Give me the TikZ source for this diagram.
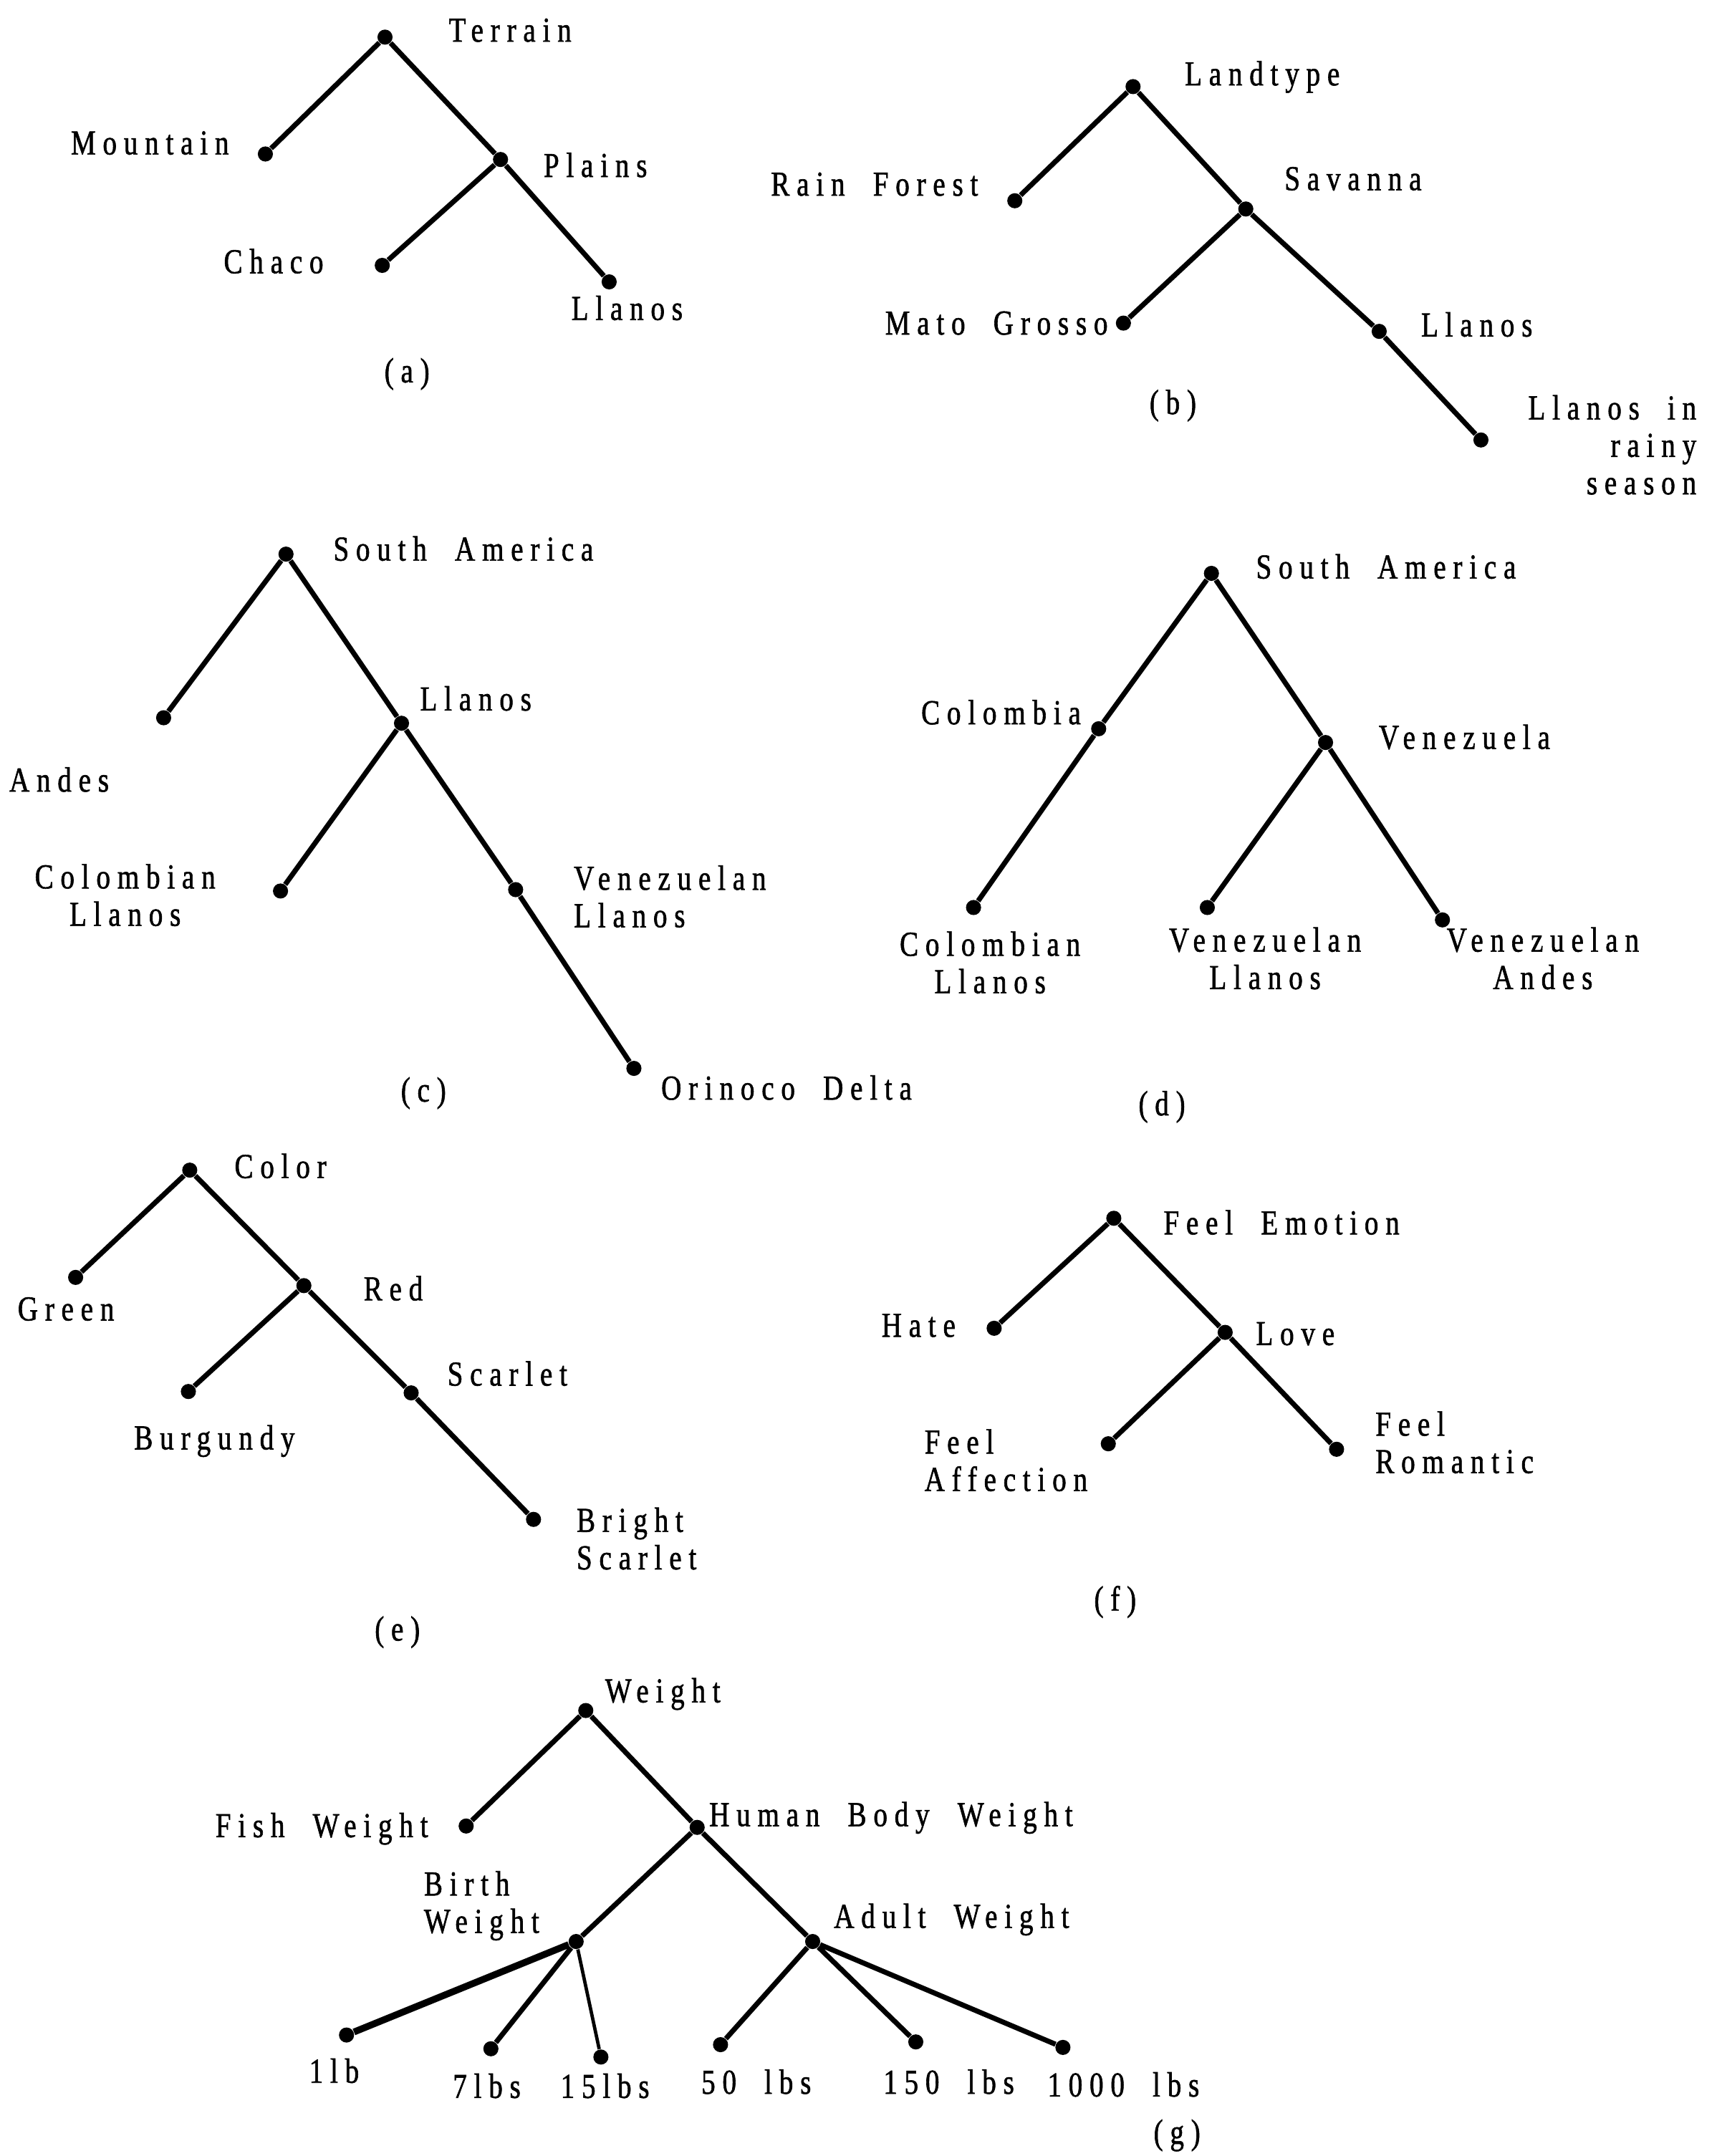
\documentclass[tikz,border=0pt]{standalone}
\usepackage{fontspec}
\setmainfont{Liberation Serif}[FakeStretch=0.8,LetterSpace=20,WordSpace=2,FakeBold=1.2]
\begin{document}
\begin{tikzpicture}[x=0.02cm,y=-0.02cm,
  dot/.style={circle,fill=black,inner sep=0pt,minimum size=0.22cm},
  lbl/.style={inner sep=0pt,font=\fontsize{14.5}{15.5}\selectfont},
  br/.style={line width=2.1pt},
  subcap/.style={inner sep=0pt,font=\fontsize{14.5}{15.5}\selectfont}]
\useasboundingbox (0,0) rectangle (1252,1568);
% (a)
\node[dot] (a0) at (280,27) {};
\node[dot] (a1) at (193,112) {};
\node[dot] (a2) at (364,116) {};
\node[dot] (a3) at (278,193) {};
\node[dot] (a4) at (443,205) {};
\draw[br] (a0)--(a1) (a0)--(a2) (a2)--(a3) (a2)--(a4);
\node[lbl] (la0) at (371,22) {Terrain};
\node[lbl] (la1) at (109,104) {Mountain};
\node[lbl] (la2) at (433,120) {Plains};
\node[lbl] (la3) at (199,190) {Chaco};
\node[lbl] (la4) at (456,224) {Llanos};
\node[subcap] (ca) at (296,272) {(a)};
% (b)
\node[dot] (b0) at (824,63) {};
\node[dot] (b1) at (738,146) {};
\node[dot] (b2) at (906,152) {};
\node[dot] (b3) at (817,235) {};
\node[dot] (b4) at (1003,241) {};
\node[dot] (b5) at (1077,320) {};
\draw[br] (b0)--(b1) (b0)--(b2) (b2)--(b3) (b2)--(b4) (b4)--(b5);
\node[lbl] (lb0) at (918,56) {Landtype};
\node[lbl] (lb1) at (636,134) {Rain Forest};
\node[lbl] (lb2) at (984,130) {Savanna};
\node[lbl,anchor=east] (lb3) at (806,235) {Mato Grosso};
\node[lbl] (lb4) at (1074,236) {Llanos};
\node[lbl,align=right,anchor=north east] (lb5) at (1234,287) {Llanos in\\rainy\\season};
\node[subcap] (cb) at (853,295) {(b)};
% (c)
\node[dot] (c0) at (208,403) {};
\node[dot] (c1) at (119,522) {};
\node[dot] (c2) at (292,526) {};
\node[dot] (c3) at (204,648) {};
\node[dot] (c4) at (375,647) {};
\node[dot] (c5) at (461,777) {};
\draw[br] (c0)--(c1) (c0)--(c2) (c2)--(c3) (c2)--(c4) (c4)--(c5);
\node[lbl] (lc0) at (337,399) {South America};
\node[lbl] (lc1) at (43,567) {Andes};
\node[lbl] (lc2) at (346,508) {Llanos};
\node[lbl,align=center] (lc3) at (91,651) {Colombian\\Llanos};
\node[lbl,align=left,anchor=west] (lc4) at (417,652) {Venezuelan\\Llanos};
\node[lbl] (lc5) at (572,791) {Orinoco Delta};
\node[subcap] (cc) at (308,795) {(c)};
% (d)
\node[dot] (d0) at (881,417) {};
\node[dot] (d1) at (799,530) {};
\node[dot] (d2) at (964,540) {};
\node[dot] (d3) at (708,660) {};
\node[dot] (d4) at (878,660) {};
\node[dot] (d5) at (1049,669) {};
\draw[br] (d0)--(d1) (d0)--(d2) (d1)--(d3) (d2)--(d4) (d2)--(d5);
\node[lbl] (ld0) at (1008,412) {South America};
\node[lbl] (ld1) at (728,518) {Colombia};
\node[lbl] (ld2) at (1065,536) {Venezuela};
\node[lbl,align=center] (ld3) at (720,700) {Colombian\\Llanos};
\node[lbl,align=center] (ld4) at (920,697) {Venezuelan\\Llanos};
\node[lbl,align=center] (ld5) at (1122,697) {Venezuelan\\Andes};
\node[subcap] (cd) at (845,805) {(d)};
% (e)
\node[dot] (e0) at (138,851) {};
\node[dot] (e1) at (55,929) {};
\node[dot] (e2) at (221,935) {};
\node[dot] (e3) at (137,1012) {};
\node[dot] (e4) at (299,1013) {};
\node[dot] (e5) at (388,1105) {};
\draw[br] (e0)--(e1) (e0)--(e2) (e2)--(e3) (e2)--(e4) (e4)--(e5);
\node[lbl] (le0) at (204,848) {Color};
\node[lbl] (le1) at (48,952) {Green};
\node[lbl] (le2) at (286,937) {Red};
\node[lbl] (le3) at (156,1048) {Burgundy};
\node[lbl] (le4) at (369,999) {Scarlet};
\node[lbl,align=left,anchor=west] (le5) at (419,1119) {Bright\\Scarlet};
\node[subcap] (ce) at (289,1187) {(e)};
% (f)
\node[dot] (f0) at (810,886) {};
\node[dot] (f1) at (723,966) {};
\node[dot] (f2) at (891,969) {};
\node[dot] (f3) at (806,1050) {};
\node[dot] (f4) at (972,1054) {};
\draw[br] (f0)--(f1) (f0)--(f2) (f2)--(f3) (f2)--(f4);
\node[lbl] (lf0) at (932,889) {Feel Emotion};
\node[lbl] (lf1) at (668,964) {Hate};
\node[lbl] (lf2) at (942,970) {Love};
\node[lbl,align=left,anchor=west] (lf3) at (672,1062) {Feel\\Affection};
\node[lbl,align=left,anchor=west] (lf4) at (1000,1049) {Feel\\Romantic};
\node[subcap] (cf) at (811,1165) {(f)};
% (g)
\node[dot] (g0) at (426,1244) {};
\node[dot] (g1) at (339,1328) {};
\node[dot] (g2) at (507,1329) {};
\node[dot] (g3) at (419,1412) {};
\node[dot] (g4) at (591,1412) {};
\node[dot] (g5) at (252,1480) {};
\node[dot] (g6) at (357,1490) {};
\node[dot] (g7) at (437,1496) {};
\node[dot] (g8) at (524,1487) {};
\node[dot] (g9) at (666,1485) {};
\node[dot] (g10) at (773,1489) {};
\draw[br] (g0)--(g1) (g0)--(g2) (g2)--(g3) (g2)--(g4)
  (g3)--(g6) (g4)--(g8) (g4)--(g9) (g4)--(g10);
\draw[line width=2.8pt] (g3)--(g5);
\draw[line width=1.4pt] (g3)--(g7);
\node[lbl] (lg0) at (482,1232) {Weight};
\node[lbl] (lg1) at (234,1330) {Fish Weight};
\node[lbl] (lg2) at (648,1322) {Human Body Weight};
\node[lbl,align=left,anchor=west] (lg3) at (308,1386) {Birth\\Weight};
\node[lbl] (lg4) at (692,1396) {Adult Weight};
\node[lbl] (lg5) at (243,1506) {1lb};
\node[lbl] (lg6) at (354,1517) {7lbs};
\node[lbl] (lg7) at (440,1517) {15lbs};
\node[lbl] (lg8) at (550,1514) {50 lbs};
\node[lbl] (lg9) at (690,1514) {150 lbs};
\node[lbl] (lg10) at (817,1516) {1000 lbs};
\node[subcap] (cg) at (856,1553) {(g)};
\end{tikzpicture}
\end{document}
